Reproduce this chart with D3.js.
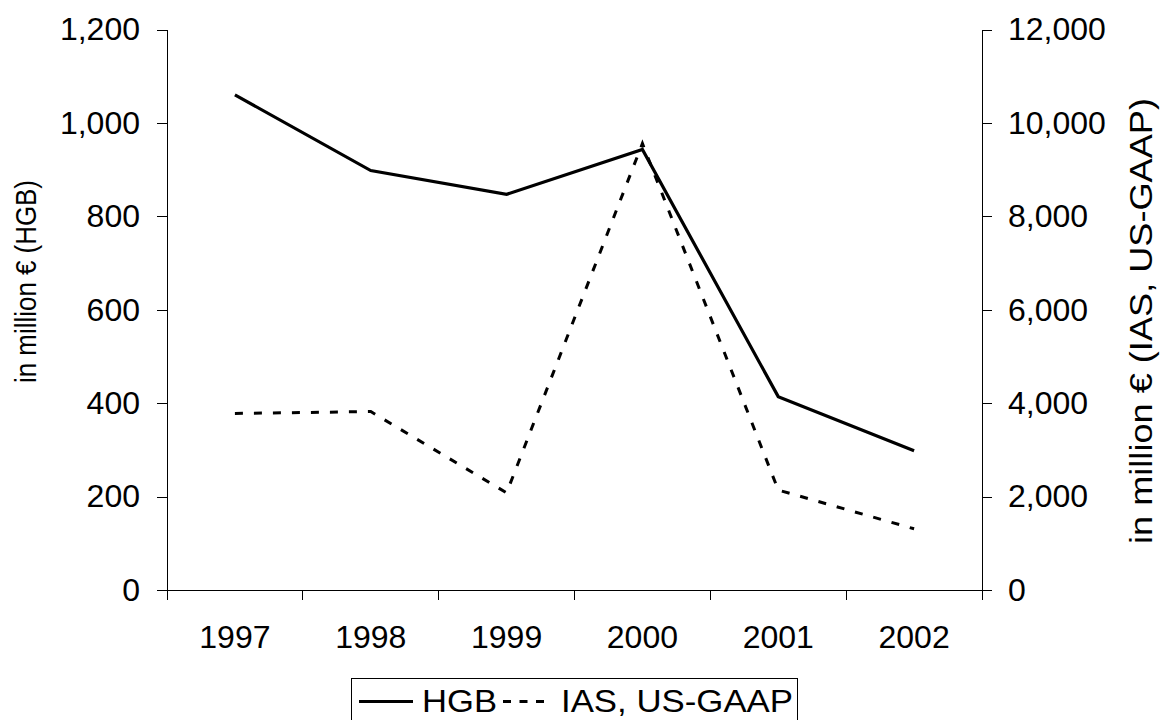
<!DOCTYPE html>
<html>
<head>
<meta charset="utf-8">
<script src="https://cdn.jsdelivr.net/npm/d3@7"></script>
<style>
  body { margin: 0; background: #fff; }
  svg text { font-family: "Liberation Sans", Arial, sans-serif; fill: #000; }
  .axis path, .axis line { stroke: #000; stroke-width: 1px; shape-rendering: crispEdges; }
</style>
</head>
<body>
<div id="chart"></div>
<script>
// data
var years = ["1997", "1998", "1999", "2000", "2001", "2002"];
var hgbValues = [1060, 898, 847, 943, 414, 298];
var iasValues = [3780, 3820, 2080, 9560, 2140, 1310];
var leftTicks = [0, 200, 400, 600, 800, 1000, 1200];
var rightTicks = [0, 2000, 4000, 6000, 8000, 10000, 12000];

var width = 1163, height = 720;
var plot = { left: 167, right: 982, top: 29.5, bottom: 590 };

var svg = d3.select("#chart").append("svg")
  .attr("width", width)
  .attr("height", height);

var x = d3.scaleBand().domain(years).range([plot.left, plot.right]);
var yLeft = d3.scaleLinear().domain([0, 1200]).range([plot.bottom, plot.top]);
var yRight = d3.scaleLinear().domain([0, 12000]).range([plot.bottom, plot.top]);

var fmt = d3.format(",");

// left axis
svg.append("g").attr("class", "axis")
  .attr("transform", "translate(" + plot.left + ",0)")
  .call(d3.axisLeft(yLeft).tickValues(leftTicks).tickSize(10).tickSizeOuter(0).tickPadding(17).tickFormat(fmt));

// right axis
svg.append("g").attr("class", "axis")
  .attr("transform", "translate(" + plot.right + ",0)")
  .call(d3.axisRight(yRight).tickValues(rightTicks).tickSize(10).tickSizeOuter(0).tickPadding(16).tickFormat(fmt));

// bottom axis: labels centred on categories, ticks between them
var gb = svg.append("g").attr("class", "axis")
  .attr("transform", "translate(0," + plot.bottom + ")")
  .call(d3.axisBottom(x).tickSize(0).tickSizeOuter(0));
gb.selectAll(".tick text").attr("y", 58).attr("dy", null);
var bounds = years.map(function(d) { return x(d); }).concat([plot.right]);
gb.selectAll("line.sep").data(bounds).enter().append("line")
  .attr("class", "sep")
  .attr("x1", function(d) { return d; }).attr("x2", function(d) { return d; })
  .attr("y1", 0).attr("y2", 10);

svg.selectAll(".axis text").style("font-size", "32px").style("font-family", "'Liberation Sans', Arial, sans-serif");

// axis titles
svg.append("text")
  .attr("transform", "translate(36,281.5) rotate(-90)")
  .attr("text-anchor", "middle")
  .attr("textLength", 203)
  .attr("lengthAdjust", "spacingAndGlyphs")
  .style("font-size", "30px")
  .text("in million € (HGB)");

svg.append("text")
  .attr("transform", "translate(1152,321) rotate(-90)")
  .attr("text-anchor", "middle")
  .attr("textLength", 446)
  .attr("lengthAdjust", "spacingAndGlyphs")
  .style("font-size", "31px")
  .text("in million € (IAS, US-GAAP)");

// lines
var cx = function(d, i) { return x(years[i]) + x.bandwidth() / 2; };

svg.append("path")
  .datum(hgbValues)
  .attr("fill", "none")
  .attr("stroke", "#000")
  .attr("stroke-width", 3.2)
  .attr("stroke-linejoin", "miter")
  .attr("d", d3.line().x(cx).y(function(d) { return yLeft(d); }));

svg.append("path")
  .datum(iasValues)
  .attr("fill", "none")
  .attr("stroke", "#000")
  .attr("stroke-width", 3)
  .attr("stroke-dasharray", "8,11")
  .attr("d", d3.line().x(cx).y(function(d) { return yRight(d); }));

// legend
var legend = svg.append("g").attr("transform", "translate(351,678)");
legend.append("rect")
  .attr("x", 0.5).attr("y", 0.5)
  .attr("width", 446).attr("height", 50)
  .attr("fill", "#fff").attr("stroke", "#000").attr("stroke-width", 1);
legend.append("line")
  .attr("x1", 8).attr("x2", 62).attr("y1", 23.5).attr("y2", 23.5)
  .attr("stroke", "#000").attr("stroke-width", 3);
legend.append("text").attr("x", 71).attr("y", 33.5)
  .attr("textLength", 75).attr("lengthAdjust", "spacingAndGlyphs")
  .style("font-size", "31px").text("HGB");
legend.append("line")
  .attr("x1", 152).attr("x2", 193).attr("y1", 23.5).attr("y2", 23.5)
  .attr("stroke", "#000").attr("stroke-width", 3)
  .attr("stroke-dasharray", "8,8.5");
legend.append("text").attr("x", 210).attr("y", 33.5)
  .attr("textLength", 232).attr("lengthAdjust", "spacingAndGlyphs")
  .style("font-size", "31px").text("IAS, US-GAAP");
</script>
</body>
</html>
